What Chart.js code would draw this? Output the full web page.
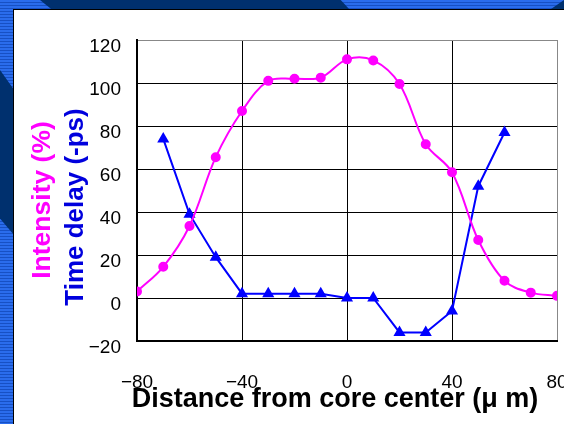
<!DOCTYPE html>
<html>
<head>
<meta charset="utf-8">
<script src="https://cdn.jsdelivr.net/npm/chart.js@4"></script>
<style>
  html, body { margin: 0; padding: 0; width: 564px; height: 424px; overflow: hidden; }
  #bg {
    position: absolute; left: 0; top: 0; width: 564px; height: 424px;
    background: repeating-linear-gradient(to bottom, #2a6cec 0px, #2a6cec 2px, #1750c4 2px, #1750c4 3px);
  }
  .navy { position: absolute; background: #00306e; }
  #panel {
    position: absolute; left: 13px; top: 9px; width: 551px; height: 415px;
    background: #fff; border-left: 1px solid #000; border-top: 1px solid #000;
  }
  #chart { position: absolute; left: 0; top: 0; }
</style>
</head>
<body>
<div id="bg"></div>
<div class="navy" style="left:40px; top:0; width:310px; height:10px; clip-path: polygon(0 0, 97% 0, 100% 100%, 4% 100%);"></div>
<div class="navy" style="left:540px; top:0; width:24px; height:10px; clip-path: polygon(100% 0, 100% 100%, 40% 100%);"></div>
<div class="navy" style="left:0; top:70px; width:14px; height:165px; clip-path: polygon(0 0, 100% 12%, 100% 100%, 0 90%);"></div>
<div id="panel"></div>
<canvas id="chart" width="564" height="424"></canvas>
<script>
// values
const distance = [-80, -70, -60, -50, -40, -30, -20, -10, 0, 10, 20, 30, 40, 50, 60, 70, 80];
const intensity = [3, 14.5, 33.5, 65.5, 87, 101, 102, 102.5, 111, 110.5, 99.5, 71.5, 58.5, 27, 8, 2.5, 1];
const timeDelay = [null, 74, 39, 19, 2, 2, 2, 2, 0, 0, -16, -16, -6, 52, 77, null, null];

const FONT = '"Liberation Sans", Arial, sans-serif';
const minusFix = v => String(v).replace('-', '\u2212');

// axis titles drawn by hand so they can be coloured / stacked like the original
const titlesPlugin = {
    id: 'titles',
    afterDraw(chart) {
        const ctx = chart.ctx;
        ctx.save();
        ctx.font = 'bold 27px ' + FONT;
        ctx.textAlign = 'center';
        ctx.textBaseline = 'alphabetic';
        ctx.fillStyle = '#000';
        ctx.fillText('Distance from core center (\u03bc m)', 335, 407);
        ctx.restore();

        ctx.save();
        ctx.font = 'bold 26.5px ' + FONT;
        ctx.textAlign = 'center';
        ctx.translate(50, 200);
        ctx.rotate(-Math.PI / 2);
        ctx.fillStyle = '#ff00ff';
        ctx.fillText('Intensity (%)', 0, 0);
        ctx.restore();

        ctx.save();
        ctx.font = 'bold 26px ' + FONT;
        ctx.textAlign = 'center';
        ctx.translate(83, 207);
        ctx.rotate(-Math.PI / 2);
        ctx.fillStyle = '#0000dd';
        ctx.fillText('Time delay (-ps)', 0, 0);
        ctx.restore();
    }
};

const ctx = document.getElementById('chart').getContext('2d');
new Chart(ctx, {
    type: 'line',
    data: {
        datasets: [{
            label: 'Intensity',
            data: distance.map((d, i) => ({ x: d, y: intensity[i] })),
            borderColor: '#ff00ff',
            backgroundColor: '#ff00ff',
            borderWidth: 2,
            pointRadius: 4,
            pointStyle: 'circle',
            tension: 0.35
        }, {
            label: 'Time delay',
            data: distance.map((d, i) => ({ x: d, y: timeDelay[i] })),
            borderColor: '#0000ff',
            backgroundColor: '#0000ff',
            borderWidth: 2,
            pointRadius: 5,
            pointStyle: 'triangle',
            tension: 0
        }]
    },
    options: {
        responsive: false,
        animation: false,
        layout: { padding: { left: 0, right: 7, top: 40, bottom: 0 } },
        plugins: {
            legend: { display: false },
            tooltip: { enabled: false }
        },
        scales: {
            x: {
                type: 'linear',
                min: -80,
                max: 80,
                afterFit: s => { s.height = 83; s.paddingLeft = 0; s.paddingRight = 0; },
                ticks: {
                    stepSize: 40,
                    padding: 30,
                    color: '#000',
                    font: { family: FONT, size: 19 },
                    maxRotation: 0,
                    callback: minusFix
                },
                grid: {
                    drawTicks: false,
                    color: c => c.tick && c.tick.value === 80 ? '#888' : '#000',
                    lineWidth: 1
                },
                border: { color: '#000', width: 2 }
            },
            y: {
                min: -20,
                max: 120,
                afterFit: s => { s.width = 137; },
                ticks: {
                    stepSize: 20,
                    padding: 16,
                    labelOffset: 7,
                    color: '#000',
                    font: { family: FONT, size: 19 },
                    callback: minusFix
                },
                grid: {
                    drawTicks: false,
                    color: c => c.tick && c.tick.value === 120 ? '#888' : '#000',
                    lineWidth: 1
                },
                border: { color: '#000', width: 2 }
            }
        }
    },
    plugins: [titlesPlugin]
});
</script>
</body>
</html>
